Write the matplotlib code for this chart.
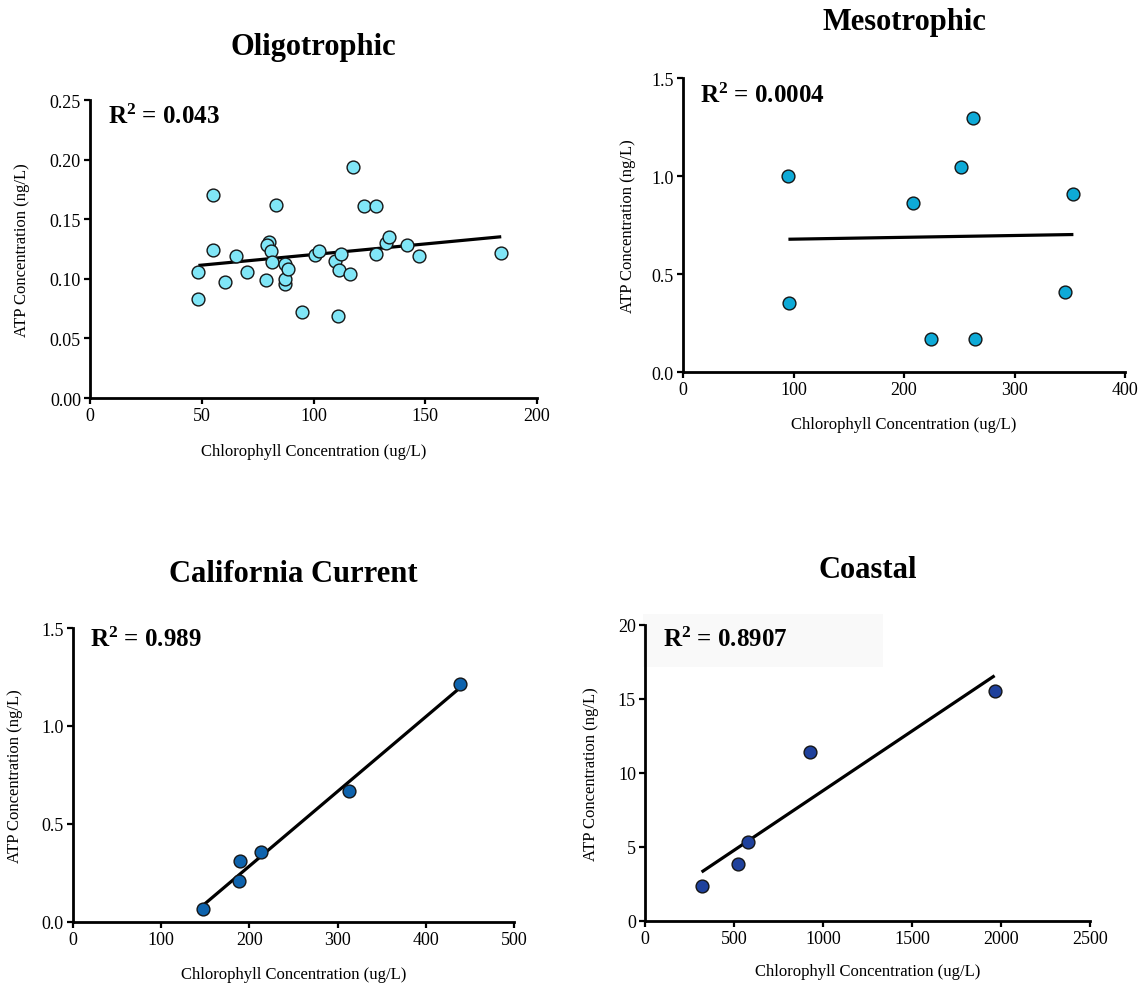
import numpy as np
import matplotlib
matplotlib.use("Agg")
import matplotlib.pyplot as plt
from matplotlib.patches import Rectangle

plt.rcParams["font.family"] = ["Liberation Serif", "DejaVu Serif"]
plt.rcParams["mathtext.fontset"] = "custom"
plt.rcParams["mathtext.rm"] = "Liberation Serif"
plt.rcParams["mathtext.bf"] = "Liberation Serif:bold"

# ---- data ----
oligo_chl = [48.5, 48.5, 55.2, 55.2, 60.3, 65.2, 70.3, 78.6, 80.2, 79.4, 81.1, 81.5,
             83.4, 87.4, 87.4, 87.4, 88.6, 94.8, 100.6, 102.5, 109.8, 111.1, 111.4,
             112.2, 116.5, 117.6, 122.4, 127.9, 127.8, 132.5, 133.6, 141.9, 147.2, 184.0]
oligo_atp = [0.106, 0.083, 0.170, 0.124, 0.097, 0.119, 0.106, 0.099, 0.131, 0.128, 0.123, 0.114,
             0.162, 0.112, 0.096, 0.100, 0.108, 0.072, 0.120, 0.123, 0.115, 0.069, 0.107,
             0.121, 0.104, 0.194, 0.161, 0.161, 0.121, 0.130, 0.135, 0.128, 0.119, 0.122]

meso_chl = [95.4, 96.3, 208.0, 224.6, 251.3, 262.3, 264.2, 346.0, 353.3]
meso_atp = [1.000, 0.350, 0.861, 0.170, 1.048, 1.298, 0.170, 0.406, 0.909]

calcur_chl = [147.8, 188.7, 189.9, 213.0, 313.0, 439.3]
calcur_atp = [0.065, 0.207, 0.313, 0.355, 0.668, 1.215]

coastal_chl = [318, 522, 581, 928, 1964]
coastal_atp = [2.36, 3.83, 5.32, 11.44, 15.54]

titles = ["Oligotrophic", "Mesotrophic", "California Current", "Coastal"]
r2_labels = ["0.043", "0.0004", "0.989", "0.8907"]
x_ticks = [[0, 50, 100, 150, 200], [0, 100, 200, 300, 400],
           [0, 100, 200, 300, 400, 500], [0, 500, 1000, 1500, 2000, 2500]]
y_ticks = [[0.00, 0.05, 0.10, 0.15, 0.20, 0.25], [0.0, 0.5, 1.0, 1.5],
           [0.0, 0.5, 1.0, 1.5], [0, 5, 10, 15, 20]]
y_fmt = ["{:.2f}", "{:.1f}", "{:.1f}", "{:.0f}"]
colors = ["#80e6f7", "#0eaad7", "#0e63ad", "#1f419c"]

series = [(oligo_chl, oligo_atp), (meso_chl, meso_atp),
          (calcur_chl, calcur_atp), (coastal_chl, coastal_atp)]

W, H = 1143, 987
fig = plt.figure(figsize=(W / 100, H / 100), dpi=100)

# axes boxes in pixels: left, right, top, bottom
boxes = [(90, 537, 101, 399), (683, 1125, 79, 373),
         (73, 514, 629, 923), (645, 1090, 626, 922)]
ylabel_off = [68, 55, 58, 54]
xlabel_off = [53, 52, 52, 50]
title_off = [53, 57, 54, 56]
r2_pos = [(18, 282), (17, 277), (17, 283), (18, 282)]

for i, ((xs, ys), (l, r, t, b)) in enumerate(zip(series, boxes)):
    ax = fig.add_axes([l / W, 1 - b / H, (r - l) / W, (b - t) / H])
    wpx, hpx = r - l, b - t
    xs = np.asarray(xs, float)
    ys = np.asarray(ys, float)

    # least-squares fit over the range of the data
    k, c = np.polyfit(xs, ys, 1)
    xf = np.array([xs.min(), xs.max()])
    ax.plot(xf, k * xf + c, color="black", lw=2.3, zorder=3, solid_capstyle="butt")
    ax.scatter(xs, ys, s=85, color=colors[i], edgecolor="#151515", linewidth=1.0,
               zorder=4, clip_on=False)

    ax.set_xlim(x_ticks[i][0], x_ticks[i][-1])
    ax.set_ylim(y_ticks[i][0], y_ticks[i][-1])
    ax.set_xticks(x_ticks[i])
    ax.set_yticks(y_ticks[i])
    ax.set_yticklabels([y_fmt[i].format(v) for v in y_ticks[i]])
    ax.set_xticklabels([str(v) for v in x_ticks[i]])

    for s in ("top", "right"):
        ax.spines[s].set_visible(False)
    for s in ("left", "bottom"):
        ax.spines[s].set_linewidth(2.0)
        ax.spines[s].set_capstyle("projecting")
    ax.tick_params(direction="out", length=4.5, width=1.6, labelsize=13, pad=2)

    ax.set_xlabel("Chlorophyll Concentration (ug/L)", fontsize=12)
    ax.xaxis.set_label_coords(0.5, -xlabel_off[i] / hpx)
    ax.xaxis.label.set_va("center")
    ax.set_ylabel("ATP Concentration (ng/L)", fontsize=12)
    ax.yaxis.set_label_coords(-ylabel_off[i] / wpx, 0.5)
    ax.yaxis.label.set_va("center")

    ax.text(0.5, 1 + title_off[i] / hpx, titles[i], transform=ax.transAxes,
            ha="center", va="center", fontsize=22, fontweight="bold")

    rx, ry = r2_pos[i]
    ax.text(rx / wpx, ry / hpx, r"$\mathbf{R^2}$ = " + r2_labels[i],
            transform=ax.transAxes, ha="left", va="center",
            fontsize=18, fontweight="bold", zorder=5)

    if i == 3:
        ax.add_patch(Rectangle((-2 / wpx, (b - 668) / hpx), 240 / wpx, 53 / hpx,
                               transform=ax.transAxes, facecolor="#f9f9f9",
                               edgecolor="none", zorder=0, clip_on=False))

fig.savefig("out.png", dpi=100, facecolor="white")
